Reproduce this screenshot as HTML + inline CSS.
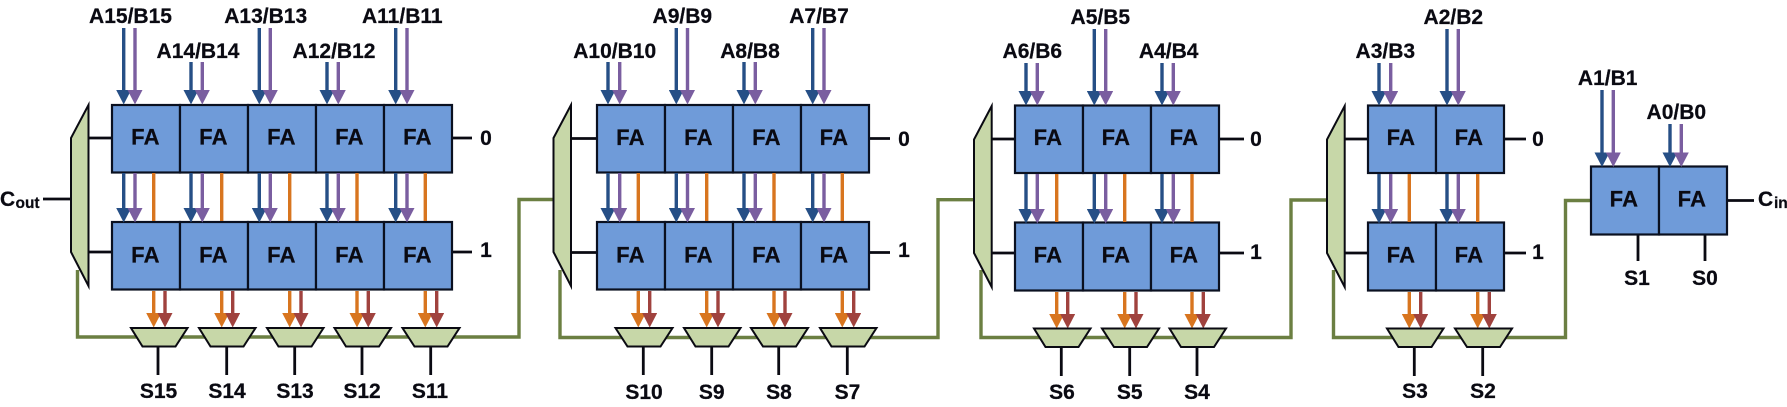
<!DOCTYPE html>
<html><head><meta charset="utf-8">
<style>
html,body{margin:0;padding:0;background:#fff;width:1787px;height:407px;overflow:hidden}
svg{display:block;filter:blur(.35px)}
text{font-family:"Liberation Sans",Arial,sans-serif;font-weight:bold;fill:#0a0a12;stroke:#0a0a12;stroke-width:.25;text-anchor:middle;font-size:21px}
text.fa{font-size:22px;letter-spacing:.3px}
.st{text-anchor:start}
text.sub{font-size:15.5px;text-anchor:start}
.k{stroke:#0a0a12;stroke-width:2.8;fill:none}
.g{stroke:#6b7f42;stroke-width:3.4;fill:none}
.bx{fill:#6f9bd9;stroke:#0a1020;stroke-width:2.2}
.mx{fill:#c7d7a8;stroke:#0a0a12;stroke-width:2;stroke-linejoin:miter;stroke-miterlimit:10}
.b{stroke:#264f86;stroke-width:3.4;marker-end:url(#mb)}
.p{stroke:#7a5ea0;stroke-width:3.4;marker-end:url(#mp)}
.o{stroke:#d8751f;stroke-width:3.4;marker-end:url(#mo)}
.r{stroke:#a0423e;stroke-width:3.4;marker-end:url(#mr)}
.n{stroke:#d8751f;stroke-width:3.4}
</style></head><body>
<svg width="1787" height="407" viewBox="0 0 1787 407" xmlns="http://www.w3.org/2000/svg">
<defs>
<marker id="mb" markerUnits="userSpaceOnUse" markerWidth="15" markerHeight="15" refX="7.5" refY="0"><polygon points="0,0 15,0 7.5,14.5" fill="#264f86"/></marker>
<marker id="mp" markerUnits="userSpaceOnUse" markerWidth="15" markerHeight="15" refX="7.5" refY="0"><polygon points="0,0 15,0 7.5,14.5" fill="#7a5ea0"/></marker>
<marker id="mo" markerUnits="userSpaceOnUse" markerWidth="15" markerHeight="15" refX="7.5" refY="0"><polygon points="0,0 15,0 7.5,14.5" fill="#d8751f"/></marker>
<marker id="mr" markerUnits="userSpaceOnUse" markerWidth="15" markerHeight="15" refX="7.5" refY="0"><polygon points="0,0 15,0 7.5,14.5" fill="#a0423e"/></marker>
</defs>

<!-- green wires -->
<path class="g" d="M77.5 270V337H519V199.5H553.5"/>
<path class="g" d="M560 270V337.5H938V199.7H973.5"/>
<path class="g" d="M981 270V337.5H1291V200H1327"/>
<path class="g" d="M1333.5 270V337.5H1565.5V200.5H1591"/>

<!-- black wires block 1 -->
<path class="k" d="M43 199H71M89 138H112M89 252H112M452 138H472M452 252H472"/>
<path class="k" d="M158 347V375M226.7 347V375M294.7 347V375M362 347V375M430.7 347V375"/>
<!-- block 2 -->
<path class="k" d="M571 138.500H597M571 252.500H597M869 138.500H890M869 252.500H890"/>
<path class="k" d="M643.300 347V375M711.700 347V375M778.700 347V375M847.300 347V375"/>
<!-- block 3 -->
<path class="k" d="M992 139H1015M992 253H1015M1219 139H1244M1219 253H1244"/>
<path class="k" d="M1061.300 347V376M1129.700 347V376M1197 347V376"/>
<!-- block 4 -->
<path class="k" d="M1345 139H1368M1345 253H1368M1504 139H1526M1504 253H1526"/>
<path class="k" d="M1414.300 347V376M1482.700 347V376"/>
<!-- block 5 -->
<path class="k" d="M1727 200.500H1754M1638 234V261M1705 234V261"/>

<!-- big muxes -->
<polygon class="mx" points="88.500,105 71,138 71,252 88.500,286"/>
<polygon class="mx" points="571,105 553.500,138 553.500,252 571,286"/>
<polygon class="mx" points="991.700,106 974,139.500 974,253 991.700,287"/>
<polygon class="mx" points="1344.700,106 1327,139.500 1327,253 1344.700,287"/>

<!-- FA boxes -->
<g class="bx">
<rect x="112" y="105" width="68" height="67.500"/><rect x="180" y="105" width="68" height="67.500"/><rect x="248" y="105" width="68" height="67.500"/><rect x="316" y="105" width="68" height="67.500"/><rect x="384" y="105" width="68" height="67.500"/>
<rect x="112" y="222" width="68" height="67.500"/><rect x="180" y="222" width="68" height="67.500"/><rect x="248" y="222" width="68" height="67.500"/><rect x="316" y="222" width="68" height="67.500"/><rect x="384" y="222" width="68" height="67.500"/>
<rect x="597" y="105" width="68" height="67.500"/><rect x="665" y="105" width="68" height="67.500"/><rect x="733" y="105" width="68" height="67.500"/><rect x="801" y="105" width="68" height="67.500"/>
<rect x="597" y="222" width="68" height="67.500"/><rect x="665" y="222" width="68" height="67.500"/><rect x="733" y="222" width="68" height="67.500"/><rect x="801" y="222" width="68" height="67.500"/>
<rect x="1015" y="105.500" width="68" height="67.500"/><rect x="1083" y="105.500" width="68" height="67.500"/><rect x="1151" y="105.500" width="68" height="67.500"/>
<rect x="1015" y="222.500" width="68" height="68"/><rect x="1083" y="222.500" width="68" height="68"/><rect x="1151" y="222.500" width="68" height="68"/>
<rect x="1368" y="105.500" width="68" height="67.500"/><rect x="1436" y="105.500" width="68" height="67.500"/>
<rect x="1368" y="222.500" width="68" height="68"/><rect x="1436" y="222.500" width="68" height="68"/>
<rect x="1591" y="166.500" width="68" height="68"/><rect x="1659" y="166.500" width="68" height="68"/>
</g>

<!-- top arrows -->
<line class="b" x1="123.700" y1="28" x2="123.700" y2="90"/><line class="p" x1="135" y1="28" x2="135" y2="90"/>
<line class="b" x1="191" y1="62" x2="191" y2="90"/><line class="p" x1="202.300" y1="62" x2="202.300" y2="90"/>
<line class="b" x1="259.300" y1="28" x2="259.300" y2="90"/><line class="p" x1="270.300" y1="28" x2="270.300" y2="90"/>
<line class="b" x1="327" y1="62" x2="327" y2="90"/><line class="p" x1="338.300" y1="62" x2="338.300" y2="90"/>
<line class="b" x1="395.700" y1="28" x2="395.700" y2="90"/><line class="p" x1="407" y1="28" x2="407" y2="90"/>

<line class="b" x1="608" y1="62" x2="608" y2="90"/><line class="p" x1="619.700" y1="62" x2="619.700" y2="90"/>
<line class="b" x1="676.300" y1="28" x2="676.300" y2="90"/><line class="p" x1="687.500" y1="28" x2="687.500" y2="90"/>
<line class="b" x1="744" y1="62" x2="744" y2="90"/><line class="p" x1="755.300" y1="62" x2="755.300" y2="90"/>
<line class="b" x1="812.700" y1="28" x2="812.700" y2="90"/><line class="p" x1="824" y1="28" x2="824" y2="90"/>

<line class="b" x1="1026" y1="63" x2="1026" y2="91"/><line class="p" x1="1037.300" y1="63" x2="1037.300" y2="91"/>
<line class="b" x1="1094.300" y1="29" x2="1094.300" y2="91"/><line class="p" x1="1105.700" y1="29" x2="1105.700" y2="91"/>
<line class="b" x1="1162" y1="63" x2="1162" y2="91"/><line class="p" x1="1173.300" y1="63" x2="1173.300" y2="91"/>

<line class="b" x1="1379" y1="63" x2="1379" y2="91"/><line class="p" x1="1390.700" y1="63" x2="1390.700" y2="91"/>
<line class="b" x1="1447" y1="29" x2="1447" y2="91"/><line class="p" x1="1458.300" y1="29" x2="1458.300" y2="91"/>

<line class="b" x1="1602" y1="90" x2="1602" y2="152.500"/><line class="p" x1="1613.300" y1="90" x2="1613.300" y2="152.500"/>
<line class="b" x1="1670" y1="124" x2="1670" y2="152.500"/><line class="p" x1="1681.300" y1="124" x2="1681.300" y2="152.500"/>

<!-- mid arrows -->
<line class="b" x1="123.700" y1="173" x2="123.700" y2="208"/><line class="p" x1="135" y1="173" x2="135" y2="208"/><line class="n" x1="153.700" y1="173" x2="153.700" y2="221"/>
<line class="b" x1="191" y1="173" x2="191" y2="208"/><line class="p" x1="202.300" y1="173" x2="202.300" y2="208"/><line class="n" x1="221.700" y1="173" x2="221.700" y2="221"/>
<line class="b" x1="259.300" y1="173" x2="259.300" y2="208"/><line class="p" x1="270.300" y1="173" x2="270.300" y2="208"/><line class="n" x1="289.700" y1="173" x2="289.700" y2="221"/>
<line class="b" x1="327" y1="173" x2="327" y2="208"/><line class="p" x1="338.300" y1="173" x2="338.300" y2="208"/><line class="n" x1="357" y1="173" x2="357" y2="221"/>
<line class="b" x1="395.700" y1="173" x2="395.700" y2="208"/><line class="p" x1="407" y1="173" x2="407" y2="208"/><line class="n" x1="425.300" y1="173" x2="425.300" y2="221"/>

<line class="b" x1="608" y1="173" x2="608" y2="208"/><line class="p" x1="619.700" y1="173" x2="619.700" y2="208"/><line class="n" x1="638.300" y1="173" x2="638.300" y2="221"/>
<line class="b" x1="676.300" y1="173" x2="676.300" y2="208"/><line class="p" x1="687.500" y1="173" x2="687.500" y2="208"/><line class="n" x1="706.700" y1="173" x2="706.700" y2="221"/>
<line class="b" x1="744" y1="173" x2="744" y2="208"/><line class="p" x1="755.300" y1="173" x2="755.300" y2="208"/><line class="n" x1="774" y1="173" x2="774" y2="221"/>
<line class="b" x1="812.700" y1="173" x2="812.700" y2="208"/><line class="p" x1="824" y1="173" x2="824" y2="208"/><line class="n" x1="842.300" y1="173" x2="842.300" y2="221"/>

<line class="b" x1="1026" y1="174" x2="1026" y2="209"/><line class="p" x1="1037.300" y1="174" x2="1037.300" y2="209"/><line class="n" x1="1056.700" y1="174" x2="1056.700" y2="222"/>
<line class="b" x1="1094.300" y1="174" x2="1094.300" y2="209"/><line class="p" x1="1105.700" y1="174" x2="1105.700" y2="209"/><line class="n" x1="1124.700" y1="174" x2="1124.700" y2="222"/>
<line class="b" x1="1162" y1="174" x2="1162" y2="209"/><line class="p" x1="1173.300" y1="174" x2="1173.300" y2="209"/><line class="n" x1="1192" y1="174" x2="1192" y2="222"/>

<line class="b" x1="1379" y1="174" x2="1379" y2="209"/><line class="p" x1="1390.700" y1="174" x2="1390.700" y2="209"/><line class="n" x1="1409.300" y1="174" x2="1409.300" y2="222"/>
<line class="b" x1="1447" y1="174" x2="1447" y2="209"/><line class="p" x1="1458.300" y1="174" x2="1458.300" y2="209"/><line class="n" x1="1477.700" y1="174" x2="1477.700" y2="222"/>

<!-- bottom arrows -->
<line class="o" x1="153.700" y1="291" x2="153.700" y2="313"/><line class="r" x1="165" y1="291" x2="165" y2="313"/>
<line class="o" x1="221.700" y1="291" x2="221.700" y2="313"/><line class="r" x1="232.700" y1="291" x2="232.700" y2="313"/>
<line class="o" x1="289.700" y1="291" x2="289.700" y2="313"/><line class="r" x1="301" y1="291" x2="301" y2="313"/>
<line class="o" x1="357" y1="291" x2="357" y2="313"/><line class="r" x1="368.300" y1="291" x2="368.300" y2="313"/>
<line class="o" x1="425.300" y1="291" x2="425.300" y2="313"/><line class="r" x1="436.700" y1="291" x2="436.700" y2="313"/>

<line class="o" x1="638.300" y1="291" x2="638.300" y2="313"/><line class="r" x1="649.700" y1="291" x2="649.700" y2="313"/>
<line class="o" x1="706.700" y1="291" x2="706.700" y2="313"/><line class="r" x1="718" y1="291" x2="718" y2="313"/>
<line class="o" x1="774" y1="291" x2="774" y2="313"/><line class="r" x1="785" y1="291" x2="785" y2="313"/>
<line class="o" x1="842.300" y1="291" x2="842.300" y2="313"/><line class="r" x1="853.700" y1="291" x2="853.700" y2="313"/>

<line class="o" x1="1056.700" y1="292" x2="1056.700" y2="314"/><line class="r" x1="1067.700" y1="292" x2="1067.700" y2="314"/>
<line class="o" x1="1124.700" y1="292" x2="1124.700" y2="314"/><line class="r" x1="1136" y1="292" x2="1136" y2="314"/>
<line class="o" x1="1192" y1="292" x2="1192" y2="314"/><line class="r" x1="1203.300" y1="292" x2="1203.300" y2="314"/>

<line class="o" x1="1409.300" y1="292" x2="1409.300" y2="314"/><line class="r" x1="1420.700" y1="292" x2="1420.700" y2="314"/>
<line class="o" x1="1477.700" y1="292" x2="1477.700" y2="314"/><line class="r" x1="1489.300" y1="292" x2="1489.300" y2="314"/>

<!-- small muxes -->
<g class="mx">
<polygon points="131,328 187.500,328 175.500,346.500 142.500,346.500"/>
<polygon points="199,328 255.500,328 243.500,346.500 210.500,346.500"/>
<polygon points="267,328 323.500,328 311.500,346.500 278.500,346.500"/>
<polygon points="334.500,328 391,328 379,346.500 346,346.500"/>
<polygon points="402.500,328 459.500,328 447.500,346.500 414.500,346.500"/>
<polygon points="615.500,328 672.500,328 660.500,346.500 627.500,346.500"/>
<polygon points="684,328 740.500,328 728.500,346.500 695.500,346.500"/>
<polygon points="751,328 808,328 796,346.500 763,346.500"/>
<polygon points="820,328 876.500,328 864.500,346.500 831.500,346.500"/>
<polygon points="1034,328.500 1090.500,328.500 1078.500,347 1045.500,347"/>
<polygon points="1102,328.500 1159,328.500 1147,347 1114,347"/>
<polygon points="1169.500,328.500 1226,328.500 1214,347 1181,347"/>
<polygon points="1387,328.500 1443.500,328.500 1431.500,347 1398.500,347"/>
<polygon points="1455,328.500 1512,328.500 1500,347 1467,347"/>
</g>

<!-- FA labels -->
<text class="fa" x="145.500" y="144.500">FA</text><text class="fa" x="213.500" y="144.500">FA</text><text class="fa" x="281.500" y="144.500">FA</text><text class="fa" x="349.500" y="144.500">FA</text><text class="fa" x="417.500" y="144.500">FA</text>
<text class="fa" x="145.500" y="262.500">FA</text><text class="fa" x="213.500" y="262.500">FA</text><text class="fa" x="281.500" y="262.500">FA</text><text class="fa" x="349.500" y="262.500">FA</text><text class="fa" x="417.500" y="262.500">FA</text>
<text class="fa" x="630.500" y="145">FA</text><text class="fa" x="698.500" y="145">FA</text><text class="fa" x="766.500" y="145">FA</text><text class="fa" x="834" y="145">FA</text>
<text class="fa" x="630.500" y="262.500">FA</text><text class="fa" x="698.500" y="262.500">FA</text><text class="fa" x="766.500" y="262.500">FA</text><text class="fa" x="834" y="262.500">FA</text>
<text class="fa" x="1048" y="145">FA</text><text class="fa" x="1116" y="145">FA</text><text class="fa" x="1184" y="145">FA</text>
<text class="fa" x="1048" y="262.500">FA</text><text class="fa" x="1116" y="262.500">FA</text><text class="fa" x="1184" y="262.500">FA</text>
<text class="fa" x="1401" y="145">FA</text><text class="fa" x="1469" y="145">FA</text>
<text class="fa" x="1401" y="262.500">FA</text><text class="fa" x="1469" y="262.500">FA</text>
<text class="fa" x="1624" y="206.500">FA</text><text class="fa" x="1692" y="206.500">FA</text>

<!-- input labels -->
<text x="130.500" y="23">A15/B15</text>
<text x="198" y="58">A14/B14</text>
<text x="265.700" y="23">A13/B13</text>
<text x="334" y="58">A12/B12</text>
<text x="402.300" y="23">A11/B11</text>
<text x="614.700" y="58">A10/B10</text>
<text x="682.300" y="23">A9/B9</text>
<text x="750" y="58">A8/B8</text>
<text x="819" y="23">A7/B7</text>
<text x="1032.300" y="58">A6/B6</text>
<text x="1100.300" y="24">A5/B5</text>
<text x="1168.700" y="58">A4/B4</text>
<text x="1385.300" y="58">A3/B3</text>
<text x="1453.300" y="24">A2/B2</text>
<text x="1607.700" y="85">A1/B1</text>
<text x="1676.300" y="119">A0/B0</text>

<!-- 0 / 1 -->
<text x="486" y="145">0</text><text x="486" y="257">1</text>
<text x="904" y="146">0</text><text x="904" y="257">1</text>
<text x="1256" y="146">0</text><text x="1256" y="259">1</text>
<text x="1538" y="146">0</text><text x="1538" y="259">1</text>

<!-- outputs -->
<text x="158.500" y="398">S15</text><text x="227" y="398">S14</text><text x="295" y="398">S13</text><text x="362" y="398">S12</text><text x="430" y="398">S11</text>
<text x="644" y="399">S10</text><text x="711.700" y="399">S9</text><text x="779" y="399">S8</text><text x="847.500" y="399">S7</text>
<text x="1062" y="399">S6</text><text x="1129.700" y="399">S5</text><text x="1197" y="399">S4</text>
<text x="1415" y="398">S3</text><text x="1483" y="398">S2</text>
<text x="1637" y="285">S1</text><text x="1705" y="285">S0</text>

<!-- Cout / Cin -->
<text class="st" x="0" y="206" style="font-size:21px">C</text>
<text class="sub" x="15.500" y="208">out</text>
<text class="st" x="1758" y="206" style="font-size:21px">C</text>
<text class="sub" x="1774" y="208">in</text>
</svg>
</body></html>
